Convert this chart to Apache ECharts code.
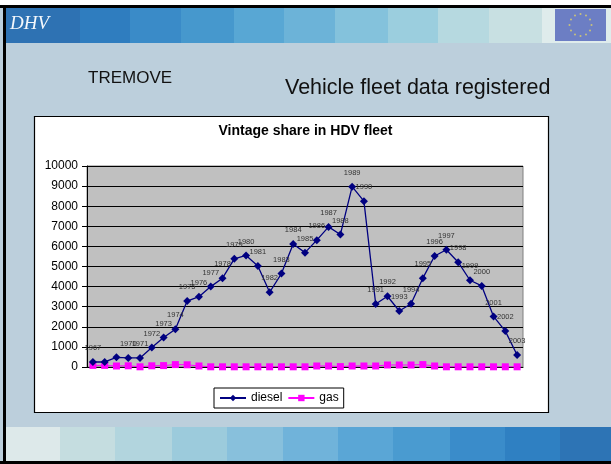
<!DOCTYPE html>
<html><head><meta charset="utf-8">
<script src="https://cdn.jsdelivr.net/npm/echarts@6/dist/echarts.min.js"></script>
<style>html,body{margin:0;padding:0;background:#bccfdc}#c{width:611px;height:464px}</style>
</head><body><div id="c"></div>
<script>
var years = ['1967','1968','1969','1970','1971','1972','1973','1974','1975','1976','1977','1978','1979','1980','1981','1982','1983','1984','1985','1986','1987','1988','1989','1990','1991','1992','1993','1994','1995','1996','1997','1998','1999','2000','2001','2002','2003'];
var diesel = [250,250,480,450,450,970,1470,1880,3280,3500,4000,4420,5380,5550,5030,3720,4650,6120,5690,6310,6970,6590,8970,8250,3135,3520,2785,3150,4420,5520,5835,5215,4315,4035,2515,1785,600];
var gas = [80,80,50,60,10,60,70,120,110,50,10,10,10,10,10,10,10,10,10,50,50,20,50,50,50,100,100,100,120,50,10,10,10,10,10,10,10];
var hiddenLabels = ['1968','1969'];
var yTicks = {min:0, max:10000, interval:1000};

var headerColors = ['#2e72b3','#2f7dbf','#3a8bc8','#4698cd','#58a7d4','#6cb3d8','#84c2dc','#9bcede','#b6d9e0','#c8e0e2','#dfecec'];
var headerEdges = [6,80,130,181,234,284,335,388,438,489,542,611];
var footerColors = ['#dde9ea','#c5dde0','#b2d5de','#9ccbdc','#88c0dc','#70b3da','#5aa6d6','#4a9bd0','#3a8cca','#2f80c2','#2d74b5'];
var footerEdges = [6,60,115,172,227,283,338,393,450,505,560,611];

var g = [];
g.push({type:'rect', z:-10, shape:{x:0,y:0,width:611,height:5}, style:{fill:'#ffffff'}});
g.push({type:'rect', z:-10, shape:{x:0,y:5,width:611,height:3}, style:{fill:'#000000'}});
g.push({type:'rect', z:-10, shape:{x:3,y:5,width:3,height:459}, style:{fill:'#000000'}});
g.push({type:'rect', z:-10, shape:{x:0,y:461,width:611,height:3}, style:{fill:'#000000'}});
for (var i=0;i<headerColors.length;i++){
  g.push({type:'rect', z:-10, shape:{x:headerEdges[i],y:8,width:headerEdges[i+1]-headerEdges[i],height:35}, style:{fill:headerColors[i]}});
}
for (var i=0;i<footerColors.length;i++){
  g.push({type:'rect', z:-10, shape:{x:footerEdges[i],y:427,width:footerEdges[i+1]-footerEdges[i],height:34}, style:{fill:footerColors[i]}});
}
g.push({type:'rect', z:-10, shape:{x:555,y:9,width:51,height:32}, style:{fill:'#6c7ec4'}});
for (var k=0;k<12;k++){
  var a = k*Math.PI/6;
  g.push({type:'circle', z:-9, shape:{cx:580.5+11*Math.cos(a), cy:25+11*Math.sin(a), r:1}, style:{fill:'#c9c27a'}});
}
g.push({type:'text', z:-9, left:10, top:14, style:{text:'DHV', fill:'#f4f8fc', font:'italic 19px "Liberation Serif", serif'}});
g.push({type:'text', z:-9, left:88, top:70, style:{text:'TREMOVE', fill:'#111111', font:'17px "Liberation Sans", Arial'}});
g.push({type:'text', z:-9, left:285, top:77, style:{text:'Vehicle fleet data registered', fill:'#111111', font:'21.5px "Liberation Sans", Arial'}});
g.push({type:'rect', z:-8, shape:{x:34.5,y:116.5,width:514,height:296}, style:{fill:'#ffffff', stroke:'#000000', lineWidth:1.2}});

var chart = echarts.init(document.getElementById('c'));
chart.setOption({
  backgroundColor:'#bccfdc',
  animation:false,
  graphic:g,
  title:{text:'Vintage share in HDV fleet', left:'center', top:119, textStyle:{fontFamily:'"Liberation Sans", Arial', fontSize:14, fontWeight:'bold', color:'#000'}},
  legend:{left:214, top:388, padding:[4,5], itemGap:5, itemWidth:26, itemHeight:8,
    backgroundColor:'#ffffff', borderColor:'#000', borderWidth:1, borderRadius:0,
    textStyle:{fontFamily:'"Liberation Sans", Arial', fontSize:12, color:'#000'},
    data:['diesel','gas']},
  grid:{left:87, right:88, top:166, bottom:97, show:true, backgroundColor:'#c0c0c0', borderColor:'#808080', borderWidth:1},
  xAxis:{type:'category', data:years, boundaryGap:true,
    axisLine:{show:true, lineStyle:{color:'#000'}}, axisTick:{show:false}, axisLabel:{show:false}},
  yAxis:{type:'value', min:yTicks.min, max:yTicks.max, interval:yTicks.interval,
    axisLine:{show:true, lineStyle:{color:'#000'}},
    axisTick:{show:true, length:5, lineStyle:{color:'#000'}},
    axisLabel:{fontFamily:'"Liberation Sans", Arial', fontSize:12, color:'#000', margin:9,
      formatter:function(v){return String(v);}},
    splitLine:{lineStyle:{color:'#000', width:1}}},
  series:[
    {name:'diesel', type:'line', data:diesel, symbol:'diamond', symbolSize:8, showSymbol:true, showAllSymbol:true,
      lineStyle:{color:'#000080', width:1.3}, itemStyle:{color:'#000080'},
      label:{show:true, position:'top', distance:6, fontFamily:'"Liberation Sans", Arial', fontSize:7.5, color:'#333',
        formatter:function(p){return hiddenLabels.indexOf(p.name)>=0?'':p.name;}}, z:3},
    {name:'gas', type:'line', data:gas, symbol:'rect', symbolSize:7, showSymbol:true, showAllSymbol:true,
      lineStyle:{color:'#ff00ff', width:1}, itemStyle:{color:'#ff00ff'}, z:2}
  ]
});
</script></body></html>
